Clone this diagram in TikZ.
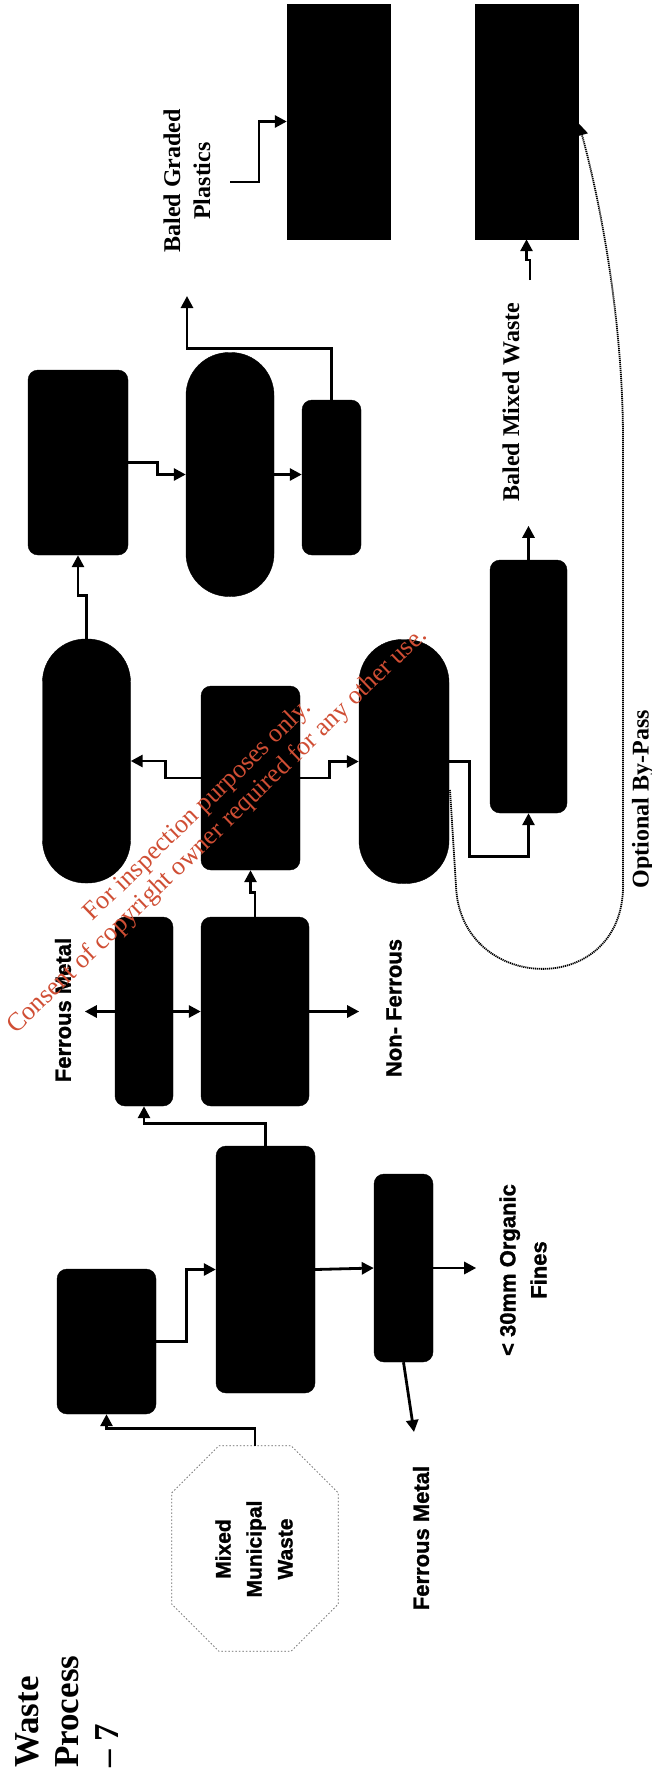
\documentclass[tikz,border=0pt]{standalone}
\usepackage{fontspec}
\setmainfont{Liberation Serif}
\setsansfont{Liberation Sans}
\usetikzlibrary{arrows.meta,calc}

\definecolor{wmred}{RGB}{208,78,52}

\tikzset{
  blk/.style={fill=black, draw=black, rounded corners=10pt, inner sep=0pt},
  baler/.style={fill=black, draw=black, inner sep=0pt},
  capsule/.style={fill=black, draw=black, rounded corners=43pt, inner sep=0pt,
    minimum width=88pt, minimum height=244pt},
  serlbl/.style={font=\fontsize{24}{30}\selectfont\bfseries, rotate=90,
    align=center, inner sep=0pt},
  sanlbl/.style={font=\sffamily\fontsize{22}{31}\selectfont\bfseries\addfontfeatures{FakeBold=1.2},
    rotate=90, align=center, inner sep=0pt},
  flow/.style={->, line width=2.8pt},
  bypass/.style={->, line width=1.8pt, dash pattern=on 1.2pt off 0.8pt},
  octo/.style={draw=gray!80!black, line width=0.8pt, dash pattern=on 1.5pt off 2pt},
  wmark/.style={text=wmred, font=\fontsize{26}{28}\selectfont, align=center,
    inner sep=0pt}
}

\begin{document}
\begin{tikzpicture}[x=1pt, y=-1pt, >={Triangle[length=12pt,width=12pt]}]
    \useasboundingbox (0,0) rectangle (651,1770);
    \fill[white] (0,0) rectangle (651,1770);

    % balers
    \node[baler, minimum width=103pt, minimum height=235pt] (bal1) at (338.5,121.5) {};
    \node[baler, minimum width=103pt, minimum height=235pt] (bal2) at (526.5,121.5) {};

    % upper row
    \node[blk, minimum width=100pt, minimum height=185pt] (J) at (78,462.5) {};
    \node[capsule] (K) at (230,474.5) {};
    \node[blk, minimum width=59pt, minimum height=155pt] (L) at (331.5,477.5) {};
    \node[blk, minimum width=77pt, minimum height=253pt] (I) at (528.5,686.5) {};

    % middle row
    \node[capsule] (F) at (86.5,761) {};
    \node[blk, minimum width=99pt, minimum height=184pt] (G) at (250.5,778) {};
    \node[capsule, minimum width=90pt] (H) at (404,761.5) {};

    % separators
    \node[blk, minimum width=58pt, minimum height=189pt] (D) at (144,1011.5) {};
    \node[blk, minimum width=108pt, minimum height=189pt] (E) at (255,1011.5) {};

    % lower row
    \node[blk, minimum width=99pt, minimum height=145pt] (A) at (106.5,1341.5) {};
    \node[blk, minimum width=99pt, minimum height=247pt] (B) at (265.5,1269.5) {};
    \node[blk, minimum width=59pt, minimum height=188pt] (C) at (403.5,1268) {};

    % input octagon
    \node[minimum width=166pt, minimum height=205pt, inner sep=0pt] (mmw) at (255,1548.5) {};
    \draw[octo] ($(mmw.north west)+(47,0)$) -- ($(mmw.north east)+(-47,0)$)
        -- ($(mmw.north east)+(0,47)$) -- ($(mmw.south east)+(0,-47)$)
        -- ($(mmw.south east)+(-47,0)$) -- ($(mmw.south west)+(47,0)$)
        -- ($(mmw.south west)+(0,-47)$) -- ($(mmw.north west)+(0,47)$) -- cycle;
    \node[sanlbl, font=\sffamily\fontsize{21}{31}\selectfont\bfseries\addfontfeatures{FakeBold=1.2}]
        (mmwtext) at (254,1549) {Mixed\\Municipal\\Waste};

    % free ends
    \coordinate (fmtip) at (414,1432);
    \coordinate (plasOut) at (187,296);
    \coordinate (plasIn) at (230,182);
    \coordinate (mixIn) at (530,280);
    \coordinate (bypassStart) at (450,790);

    % connectors
    \draw[flow] (mmw.north) -- ++(0,-17) -| (A.south);
    \draw[flow] (A.east) -- ++(30,0) |- (B.west);
    \draw[flow] (B.east) -- (C.west);
    \draw[flow] (C.east) -- ++(43,0);
    \draw[flow] (C.south) -- (fmtip);
    \draw[flow] (B.north) -- ++(0,-22) -| (D.south);
    \draw[flow] (D.west) -- ++(-30,0);
    \draw[flow] (D.east) -- (E.west);
    \draw[flow] (E.east) -- ++(50,0);
    \draw[flow] (E.north) -- ++(0,-24) -| (G.south);
    \draw[flow] (G.west) -- ++(-35,0) |- (F.east);
    \draw[flow] (G.east) -- ++(29,0) |- (H.west);
    \draw[flow] (H.east) -- ++(20,0) -- ++(0,95) -| (I.south);
    \draw[flow] (I.north) -- ++(0,-34);
    \draw[flow] (F.north) -- ++(0,-43) -| (J.south);
    \draw[flow] (J.east) -- ++(29,0) |- (K.west);
    \draw[flow] (K.east) -- (K.east -| L.west);
    \draw[flow] (L.north) -- ++(0,-51) -| (plasOut);
    \draw[flow] (plasIn) -- ++(29,0) |- (bal1.west);
    \draw[flow] (mixIn) -- ++(0,-20) -| (bal2.south);

    % optional by-pass
    \draw[bypass, shorten >=2pt] (bypassStart) -- (456,886)
        .. controls (460,995) and (628,1000) .. (623,880) -- (623,440)
        .. controls (623,320) and (600,200) .. (bal2.east);

    % labels
    \node[serlbl] (bgp) at (187,181) {Baled Graded\\Plastics};
    \node[serlbl] (bmw) at (511,402) {Baled Mixed Waste};
    \node[serlbl] (obp) at (643,799) {Optional By-Pass};
    \node[sanlbl] (fm1) at (63,1010) {Ferrous Metal};
    \node[sanlbl] (nf) at (394,1008) {Non- Ferrous};
    \node[sanlbl] (fines) at (523,1270) {< 30mm Organic\\Fines};
    \node[sanlbl] (fm2) at (421,1538) {Ferrous Metal};
    \node[rotate=90, anchor=north west, align=left, inner sep=0pt,
        font=\fontsize{35}{40}\selectfont\bfseries] (ttl) at (15,1768)
        {Waste\\Process\\\textendash\ 7};

    % watermark
    \node[wmark, rotate=44] (wm) at (208,821)
        {For inspection purposes only.\\Consent of copyright owner required for any other use.};
\end{tikzpicture}
\end{document}
